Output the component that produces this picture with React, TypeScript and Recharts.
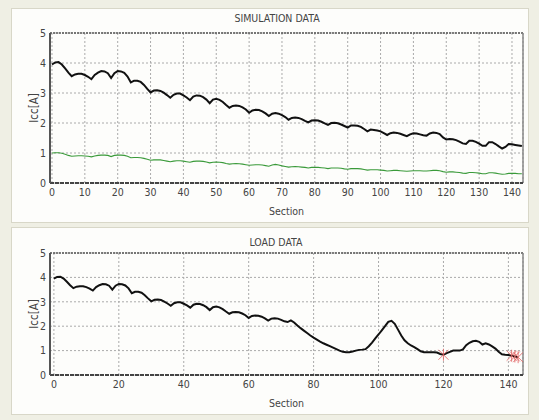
import React from 'react'
import {
  ComposedChart,
  Line,
  Scatter,
  XAxis,
  YAxis,
  CartesianGrid,
  ReferenceLine,
} from 'recharts'

// Icc[A] per section
const simIcc = [
  3.95, 4.02, 4.03, 3.95, 3.82, 3.68, 3.56,
  3.62, 3.64, 3.64, 3.6, 3.54, 3.46,
  3.6, 3.68, 3.73, 3.72, 3.66, 3.5,
  3.66, 3.73, 3.72, 3.67, 3.55, 3.35,
  3.41, 3.41, 3.37, 3.27, 3.14, 3.02,
  3.08, 3.09, 3.07, 3.01, 2.93, 2.84,
  2.94, 2.98, 2.98, 2.92, 2.85, 2.76,
  2.88, 2.92, 2.91, 2.86, 2.78, 2.66,
  2.78, 2.81, 2.77, 2.7, 2.6, 2.51,
  2.57, 2.58, 2.57, 2.52, 2.45, 2.34,
  2.42, 2.44, 2.43, 2.39, 2.32, 2.23,
  2.31, 2.33, 2.31, 2.26, 2.2, 2.11,
  2.17, 2.18, 2.17, 2.13, 2.07, 2.02,
  2.08, 2.09, 2.08, 2.04, 1.99, 1.94,
  2.0, 2.01, 1.99, 1.95, 1.9, 1.85,
  1.92, 1.92, 1.91, 1.87, 1.8, 1.72,
  1.78, 1.77, 1.75, 1.72, 1.66, 1.6,
  1.66, 1.68, 1.67, 1.64, 1.6, 1.56,
  1.62, 1.66, 1.65, 1.62, 1.59, 1.58,
  1.65, 1.68, 1.67, 1.63, 1.52, 1.45,
  1.47, 1.46, 1.43, 1.38, 1.32, 1.3,
  1.41, 1.41, 1.37, 1.31, 1.24, 1.24,
  1.36, 1.36, 1.3, 1.22, 1.15, 1.2,
  1.3, 1.29, 1.27, 1.25, 1.23,
]

const simLow = [
  1.0, 1.01, 1.01, 0.99, 0.96, 0.92, 0.89,
  0.9, 0.91, 0.91, 0.9, 0.89, 0.87,
  0.9, 0.92, 0.93, 0.93, 0.92, 0.88,
  0.92, 0.93, 0.93, 0.92, 0.89, 0.84,
  0.85, 0.85, 0.84, 0.82, 0.79, 0.76,
  0.77, 0.77, 0.77, 0.75, 0.73, 0.71,
  0.73, 0.74, 0.74, 0.73, 0.71, 0.69,
  0.72, 0.73, 0.73, 0.72, 0.7, 0.67,
  0.69, 0.7, 0.69, 0.68, 0.65, 0.63,
  0.64, 0.65, 0.64, 0.63, 0.61, 0.59,
  0.6, 0.61, 0.61, 0.6, 0.58, 0.56,
  0.6, 0.62, 0.6, 0.57, 0.55, 0.53,
  0.54, 0.55, 0.54, 0.53, 0.52, 0.5,
  0.52, 0.52, 0.52, 0.51, 0.5, 0.48,
  0.5, 0.5, 0.5, 0.49, 0.47, 0.46,
  0.48, 0.48, 0.48, 0.47, 0.45, 0.43,
  0.44, 0.44, 0.44, 0.43, 0.42, 0.4,
  0.41, 0.42, 0.42, 0.41, 0.4, 0.39,
  0.4, 0.41, 0.41, 0.41, 0.4, 0.4,
  0.41, 0.42, 0.42, 0.41, 0.38, 0.36,
  0.37, 0.37, 0.36, 0.35, 0.33, 0.32,
  0.35, 0.35, 0.34, 0.33, 0.31, 0.31,
  0.34, 0.34, 0.33, 0.31, 0.29, 0.3,
  0.32, 0.32, 0.32, 0.31, 0.31,
]

// load data follows the simulation up to section 71, then diverges
const loadTail = [
  2.17, 2.24, 2.15, 2.03, 1.92, 1.82, 1.72, 1.62, 1.53, 1.45,
  1.37, 1.3, 1.24, 1.18, 1.12, 1.06, 1.0, 0.95, 0.93, 0.93,
  0.96, 1.0, 1.03, 1.04, 1.06, 1.18, 1.33, 1.5, 1.66, 1.83,
  2.0, 2.18, 2.22, 2.1, 1.86, 1.62, 1.42, 1.3, 1.21, 1.14,
  1.06, 0.97, 0.93, 0.93, 0.93, 0.93, 0.92, 0.86, 0.83, 0.9,
  0.95, 1.0, 1.0, 1.0, 1.05, 1.22, 1.32, 1.38, 1.4, 1.36,
  1.25, 1.3, 1.25, 1.17, 1.08, 0.95, 0.85, 0.83, 0.82, 0.79,
  0.76, 0.73,
]
const loadIcc = [...simIcc.slice(0, 72), ...loadTail]

const alarmSections = [120, 141, 142, 143]
const alarmIcc = [0.83, 0.79, 0.76, 0.73]

const yTicks = [0, 1, 2, 3, 4, 5]
const simTicks = [0, 10, 20, 30, 40, 50, 60, 70, 80, 90, 100, 110, 120, 130, 140]
const loadTicks = [0, 20, 40, 60, 80, 100, 120, 140]

const simRows = simIcc.map((v, i) => ({ section: i, icc: v, low: simLow[i] }))
const loadRows = loadIcc.map((v, i) => ({ section: i, icc: v }))
const alarmRows = alarmSections.map((s, i) => ({ section: s, icc: alarmIcc[i] }))

const FONT = "'Liberation Sans Narrow', 'Arial Narrow', 'DejaVu Sans Condensed', sans-serif"
const TEXT = '#444'
const tickStyle = { fill: TEXT, fontSize: 10.5, fontFamily: FONT }

const AlarmMark = (props: any) => {
  const { cx, cy } = props
  if (cx == null || cy == null) return null
  const r = 5
  return (
    <g stroke="#e36a6a" strokeWidth={1} opacity={0.85}>
      <line x1={cx - r} y1={cy - r} x2={cx + r} y2={cy + r} />
      <line x1={cx - r} y1={cy + r} x2={cx + r} y2={cy - r} />
      <line x1={cx} y1={cy - r - 1} x2={cx} y2={cy + r + 1} />
    </g>
  )
}

const panel = (top: number, height: number): React.CSSProperties => ({
  position: 'absolute',
  left: 11,
  top,
  width: 516,
  height,
  background: '#fdfdfb',
  border: '1px solid #d8d7c8',
})

function Frame({ xMax }: { xMax: number }) {
  return (
    <>
      <ReferenceLine y={5} stroke="#555" strokeDasharray="2 1" strokeWidth={1.5} />
      <ReferenceLine x={xMax} stroke="#888" strokeWidth={1.5} />
    </>
  )
}

export default function App() {
  return (
    <div
      style={{
        position: 'absolute',
        left: 0,
        top: 0,
        width: 539,
        height: 420,
        background: '#efefe4',
        fontFamily: FONT,
      }}
    >
      <div style={panel(8, 213)} />
      <div style={panel(227, 186)} />

      {/* SIMULATION DATA */}
      <div style={{ position: 'absolute', left: 0, top: 0 }}>
        <ComposedChart
          width={539}
          height={222}
          data={simRows}
          margin={{ top: 33, right: 16, bottom: 9, left: 20 }}
        >
          <CartesianGrid stroke="#aaa" strokeDasharray="2 2" />
          <XAxis
            dataKey="section"
            type="number"
            domain={[-0.6, 143.35]}
            ticks={simTicks}
            allowDataOverflow
            height={30}
            tickLine={false}
            tickSize={5}
            tickMargin={1}
            tick={tickStyle}
            axisLine={{ stroke: '#444', strokeWidth: 2, strokeDasharray: '4 1' }}
            label={{ value: 'Section', position: 'insideBottom', offset: -2, fill: TEXT, fontSize: 10.5, fontFamily: FONT }}
          />
          <YAxis
            domain={[0, 5]}
            ticks={yTicks}
            width={30}
            tickLine={false}
            tickSize={3}
            tickMargin={1}
            tick={tickStyle}
            axisLine={{ stroke: '#555', strokeWidth: 2 }}
            label={{
              content: () => (
                <text x={38} y={108} transform="rotate(-90 38 108)" textAnchor="middle" fill={TEXT} fontSize={11.5} fontFamily={FONT}>
                  Icc[A]
                </text>
              ),
            }}
          />
          <Frame xMax={143.35} />
          <Line dataKey="low" type="linear" stroke="#3a9a3a" strokeWidth={1.1} dot={false} isAnimationActive={false} />
          <Line dataKey="icc" type="linear" stroke="#111" strokeWidth={2} dot={false} isAnimationActive={false} />
          <text x={277} y={22} textAnchor="middle" fill={TEXT} fontSize={10.5} fontFamily={FONT}>
            SIMULATION DATA
          </text>
        </ComposedChart>
      </div>

      {/* LOAD DATA */}
      <div style={{ position: 'absolute', left: 0, top: 222 }}>
        <ComposedChart
          width={539}
          height={198}
          data={loadRows}
          margin={{ top: 31, right: 16, bottom: 15, left: 20 }}
        >
          <CartesianGrid stroke="#aaa" strokeDasharray="2 2" />
          <XAxis
            dataKey="section"
            type="number"
            domain={[-1.2, 144.5]}
            ticks={loadTicks}
            allowDataOverflow
            height={30}
            tickLine={false}
            tickSize={5}
            tickMargin={1}
            tick={tickStyle}
            axisLine={{ stroke: '#444', strokeWidth: 2, strokeDasharray: '4 1' }}
            label={{ value: 'Section', position: 'insideBottom', offset: -2, fill: TEXT, fontSize: 10.5, fontFamily: FONT }}
          />
          <YAxis
            domain={[0, 5]}
            ticks={yTicks}
            width={30}
            tickLine={false}
            tickSize={3}
            tickMargin={1}
            tick={tickStyle}
            axisLine={{ stroke: '#555', strokeWidth: 2 }}
            label={{
              content: () => (
                <text x={38} y={92} transform="rotate(-90 38 92)" textAnchor="middle" fill={TEXT} fontSize={11.5} fontFamily={FONT}>
                  Icc[A]
                </text>
              ),
            }}
          />
          <Frame xMax={144.5} />
          <Line dataKey="icc" type="linear" stroke="#111" strokeWidth={2} dot={false} isAnimationActive={false} />
          <Scatter data={alarmRows} dataKey="icc" shape={AlarmMark} isAnimationActive={false} />
          <text x={276} y={24} textAnchor="middle" fill={TEXT} fontSize={10.5} fontFamily={FONT}>
            LOAD DATA
          </text>
        </ComposedChart>
      </div>
    </div>
  )
}
